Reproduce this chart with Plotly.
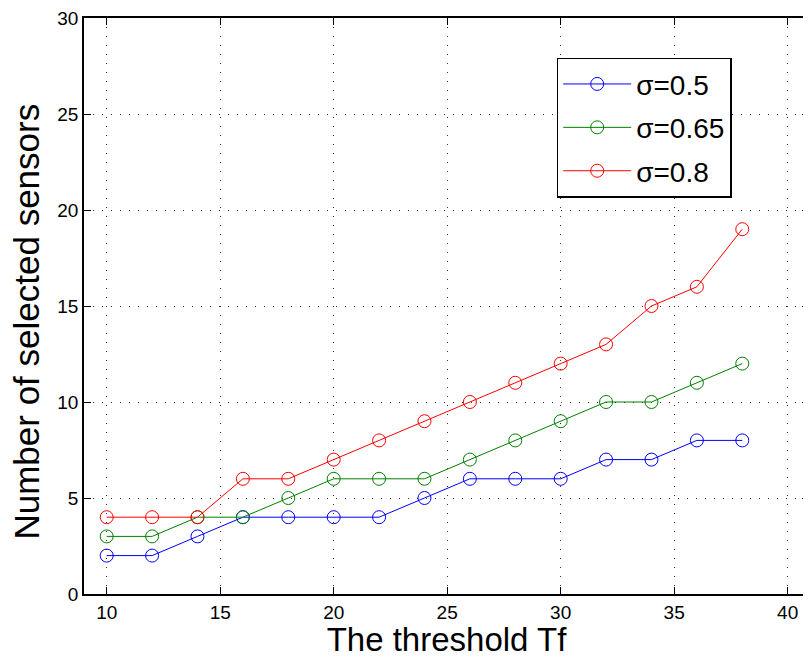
import plotly.graph_objects as go

thresholds = [10, 12, 14, 16, 18, 20, 22, 24, 26, 28, 30, 32, 34, 36, 38]
sigma_05 = [2, 2, 3, 4, 4, 4, 4, 5, 6, 6, 6, 7, 7, 8, 8]
sigma_065 = [3, 3, 4, 4, 5, 6, 6, 6, 7, 8, 9, 10, 10, 11, 12]
sigma_08 = [4, 4, 4, 6, 6, 7, 8, 9, 10, 11, 12, 13, 15, 16, 19]

series = [
    ("σ=0.5", sigma_05, "#0000ff"),
    ("σ=0.65", sigma_065, "#008000"),
    ("σ=0.8", sigma_08, "#ff0000"),
]

fig = go.Figure()
for name, ys, col in series:
    fig.add_trace(go.Scatter(
        x=thresholds, y=ys, name=name, mode="lines+markers", legendgroup=name,
        line=dict(color=col, width=1),
        marker=dict(symbol="circle-open", size=13, color=col, line=dict(width=1, color=col)),
    ))

font = "Liberation Sans, Arial, sans-serif"
axis_common = dict(
    showline=True, linecolor="black", linewidth=1.5, mirror="allticks",
    ticks="inside", ticklen=7, tickcolor="black", tickwidth=1,
    showgrid=True, gridcolor="rgba(0,0,0,0.8)", griddash="1px,8px", gridwidth=1,
    zeroline=False, tickfont=dict(size=19, color="black", family=font),
    ticklabeloverflow="allow",
)

fig.update_layout(
    width=803, height=650,
    margin=dict(l=76, r=0, t=9, b=64),
    paper_bgcolor="white", plot_bgcolor="white",
    font=dict(family=font, color="black"),
    xaxis=dict(range=[9, 40.94], tickvals=[10, 15, 20, 25, 30, 35, 40],
               title=dict(text="The threshold Tf", font=dict(size=33), standoff=4),
               **axis_common),
    yaxis=dict(range=[0, 30], tickvals=[0, 5, 10, 15, 20, 25, 30],
               **axis_common),
    legend=dict(x=0.652, y=0.931, xanchor="left", yanchor="top",
                bgcolor="white", bordercolor="black", borderwidth=1.5,
                font=dict(size=28, color="black", family=font),
                itemwidth=68, tracegroupgap=4),
    showlegend=True,
    annotations=[dict(
        text="Number of selected sensors", textangle=-90,
        xref="paper", yref="paper", x=0, y=0.473,
        xanchor="center", yanchor="middle", xshift=-57,
        showarrow=False, font=dict(size=35, color="black", family=font),
    )],
)

fig.write_html("out.html")
